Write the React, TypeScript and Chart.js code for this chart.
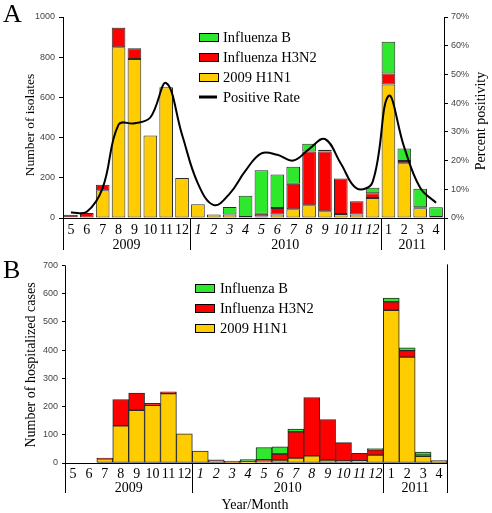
import React, { useEffect, useRef } from "react";
import { Chart, registerables } from "chart.js";

Chart.register(...registerables);

// ---------- data ----------
const months = ["5", "6", "7", "8", "9", "10", "11", "12", "1", "2", "3", "4", "5", "6", "7", "8", "9", "10", "11", "12", "1", "2", "3", "4"];
const years = ["2009", "2010", "2011"];
const yearSpans = [8, 12, 4];
const italicYear = "2010";

// Panel A: number of isolates
const isoH1N1 = [4, 3, 138, 849, 791, 410, 650, 199, 68, 17, 17, 2, 8, 18, 43, 64, 33, 20, 17, 100, 664, 272, 49, 3];
const isoH3N2 = [12, 22, 28, 97, 54, 0, 0, 0, 0, 0, 0, 3, 13, 32, 128, 267, 298, 176, 66, 23, 55, 11, 5, 2];
const isoB = [0, 0, 0, 2, 0, 0, 0, 0, 0, 0, 38, 106, 216, 167, 84, 38, 9, 0, 0, 27, 158, 63, 92, 48];
const positiveRate = [1.9, 2.2, 10.5, 32.5, 33, 35, 47, 29, 12, 4.5, 8.5, 16.5, 22.5, 22, 20, 24, 27.5, 19, 10.3, 12.5, 42.5, 24.5, 10.5, 5.3];

// Panel B: number of hospitalized cases
const hospH1N1 = [0, 0, 15, 132, 187, 204, 246, 103, 42, 9, 2, 3, 6, 10, 17, 25, 10, 7, 8, 28, 541, 375, 24, 2];
const hospH3N2 = [0, 0, 2, 93, 61, 7, 6, 0, 0, 2, 3, 3, 6, 22, 93, 207, 144, 65, 26, 19, 30, 23, 4, 0];
const hospB = [0, 0, 0, 0, 0, 0, 0, 0, 0, 0, 2, 6, 43, 25, 10, 0, 0, 0, 0, 4, 13, 10, 11, 7];

const seriesNames = ["Influenza B", "Influenza H3N2", "2009 H1N1", "Positive Rate"];

const isoTicks = [0, 200, 400, 600, 800, 1000];
const pctTicks = [0, 10, 20, 30, 40, 50, 60, 70];
const hospTicks = [0, 100, 200, 300, 400, 500, 600, 700];

// ---------- style ----------
const GREEN = "#2ee82e";
const RED = "#ff0000";
const YELLOW = "#ffcc00";
const EDGE = "#2a2a2a";
const SERIF = '"Liberation Serif", "Times New Roman", serif';
const SANS = '"Liberation Sans", Arial, sans-serif';

const decorPlugin = {
  id: "decor",
  afterDraw(chart: any) {
    const o = chart.options.plugins.decor;
    if (!o) return;
    const { ctx, chartArea: ca } = chart;
    const xs = chart.scales.x;
    const px = (v: number) => Math.round(v) + 0.5;
    ctx.save();
    ctx.strokeStyle = "#000";
    ctx.lineWidth = 1;
    const bottomExt = ca.bottom + o.extDown;
    const line = (x1: number, y1: number, x2: number, y2: number) => {
      ctx.beginPath();
      ctx.moveTo(x1, y1);
      ctx.lineTo(x2, y2);
      ctx.stroke();
    };
    // baseline
    line(ca.left, px(ca.bottom), ca.right, px(ca.bottom));
    // left & right verticals
    line(px(ca.left), ca.top, px(ca.left), bottomExt);
    line(px(ca.right), ca.top - o.rightTopExt, px(ca.right), bottomExt);
    // year separators + labels
    let start = 0;
    const n = months.length;
    ctx.fillStyle = "#000";
    ctx.textAlign = "center";
    ctx.textBaseline = "middle";
    years.forEach((yr, k) => {
      const end = start + yearSpans[k];
      if (start > 0) {
        const bx = (xs.getPixelForValue(start - 1) + xs.getPixelForValue(start)) / 2;
        line(px(bx), ca.bottom, px(bx), bottomExt);
      }
      const cx = (xs.getPixelForValue(start) + xs.getPixelForValue(end - 1)) / 2;
      ctx.font = `${o.yearSize}px ${SERIF}`;
      ctx.fillText(yr, cx, ca.bottom + o.yearDy);
      for (let i = start; i < end && i < n; i++) {
        ctx.font = `${yr === italicYear ? "italic " : ""}${o.monthSize}px ${SERIF}`;
        ctx.fillText(months[i], xs.getPixelForValue(i), ca.bottom + o.monthDy);
      }
      start = end;
    });
    // panel letter
    ctx.textAlign = "left";
    ctx.textBaseline = "alphabetic";
    ctx.font = `26px ${SERIF}`;
    ctx.fillText(o.letter, o.letterX, o.letterY);
    // axis titles
    const vText = (t: string, x: number, y: number, size: number) => {
      ctx.save();
      ctx.translate(x, y);
      ctx.rotate(-Math.PI / 2);
      ctx.textAlign = "center";
      ctx.textBaseline = "middle";
      ctx.font = `${size}px ${SERIF}`;
      ctx.fillText(t, 0, 0);
      ctx.restore();
    };
    vText(o.yTitle, o.yTitleX, o.yTitleY, o.yTitleSize);
    if (o.rTitle) vText(o.rTitle, o.rTitleX, o.rTitleY, 14);
    if (o.xTitle) {
      ctx.textAlign = "center";
      ctx.textBaseline = "middle";
      ctx.font = `14px ${SERIF}`;
      ctx.fillText(o.xTitle, o.xTitleX, o.xTitleY);
    }
    // legend
    ctx.textAlign = "left";
    ctx.textBaseline = "middle";
    ctx.font = `14.5px ${SERIF}`;
    o.legend.forEach((item: any, i: number) => {
      const y = o.legendRows[i];
      if (item.line) {
        ctx.save();
        ctx.lineWidth = 3;
        ctx.strokeStyle = "#000";
        line(o.legendX, y, o.legendX + 18, y);
        ctx.restore();
      } else {
        ctx.fillStyle = item.color;
        ctx.fillRect(o.legendX, y - 4, 20, 8);
        ctx.strokeStyle = "#000";
        ctx.strokeRect(o.legendX + 0.5, y - 4 + 0.5, 19, 8);
      }
      ctx.fillStyle = "#000";
      ctx.fillText(item.label, o.legendTextX, y + 1);
    });
    ctx.restore();
  },
};

function barSet(label: string, data: number[], color: string, pct: number) {
  return {
    type: "bar" as const,
    label,
    data,
    backgroundColor: color,
    borderColor: EDGE,
    borderWidth: 1,
    borderSkipped: false,
    barPercentage: pct,
    categoryPercentage: 1,
    order: 1,
    yAxisID: "y",
  };
}

const tickFont = { family: SANS, size: 9 };
const plainNum = (v: any) => String(v);

export default function App() {
  const refA = useRef<HTMLCanvasElement | null>(null);
  const refB = useRef<HTMLCanvasElement | null>(null);

  useEffect(() => {
    const labels = months.map((m, i) => `${i}-${m}`);
    const chartA = new Chart(refA.current!, {
      type: "bar",
      data: {
        labels,
        datasets: [
          {
            type: "line" as const,
            label: seriesNames[3],
            data: positiveRate,
            borderColor: "#000",
            borderWidth: 2,
            pointRadius: 0,
            tension: 0.4,
            fill: false,
            yAxisID: "y1",
            order: 0,
          } as any,
          barSet(seriesNames[2], isoH1N1, YELLOW, 0.86),
          barSet(seriesNames[1], isoH3N2, RED, 0.86),
          barSet(seriesNames[0], isoB, GREEN, 0.86),
        ],
      },
      options: {
        responsive: false,
        animation: false,
        layout: { padding: { top: 17, bottom: 38, left: 0, right: 0 } },
        plugins: {
          legend: { display: false },
          tooltip: { enabled: false },
          decor: {
            letter: "A",
            letterX: 3,
            letterY: 22,
            yTitle: "Number of isolates",
            yTitleX: 30,
            yTitleY: 125,
            yTitleSize: 13.5,
            rTitle: "Percent positivity",
            rTitleX: 481,
            rTitleY: 121,
            extDown: 32,
            rightTopExt: 0,
            monthDy: 12,
            yearDy: 27,
            monthSize: 14,
            yearSize: 14,
            legendX: 199,
            legendTextX: 223,
            legendRows: [37, 57, 77, 97],
            legend: [
              { label: seriesNames[0], color: GREEN },
              { label: seriesNames[1], color: RED },
              { label: seriesNames[2], color: YELLOW },
              { label: seriesNames[3], line: true },
            ],
          },
        } as any,
        scales: {
          x: { stacked: true, display: false, offset: true },
          y: {
            stacked: true,
            position: "left",
            min: 0,
            max: 1000,
            afterBuildTicks: (s: any) => { s.ticks = isoTicks.map((v) => ({ value: v })); },
            afterFit: (s: any) => { s.width = 63; },
            ticks: { font: tickFont, color: "#444", padding: 4, callback: plainNum },
            grid: { drawOnChartArea: false, tickLength: 4, color: "#000" },
            border: { display: false },
          },
          y1: {
            position: "right",
            min: 0,
            max: 70,
            afterBuildTicks: (s: any) => { s.ticks = pctTicks.map((v) => ({ value: v })); },
            afterFit: (s: any) => { s.width = 48; },
            ticks: { font: tickFont, color: "#444", padding: 3, callback: (v: any) => `${v}%` },
            grid: { drawOnChartArea: false, tickLength: 4, color: "#000" },
            border: { display: false },
          },
        },
      },
      plugins: [decorPlugin],
    } as any);

    const chartB = new Chart(refB.current!, {
      type: "bar",
      data: {
        labels,
        datasets: [
          barSet(seriesNames[2], hospH1N1, YELLOW, 1),
          barSet(seriesNames[1], hospH3N2, RED, 1),
          barSet(seriesNames[0], hospB, GREEN, 1),
        ],
      },
      options: {
        responsive: false,
        animation: false,
        layout: { padding: { top: 8, bottom: 50, left: 0, right: 45 } },
        plugins: {
          legend: { display: false },
          tooltip: { enabled: false },
          decor: {
            letter: "B",
            letterX: 3,
            letterY: 278 - 256,
            yTitle: "Number of hospitalized cases",
            yTitleX: 31,
            yTitleY: 365 - 256,
            yTitleSize: 14,
            extDown: 30,
            rightTopExt: 1,
            monthDy: 11,
            yearDy: 25,
            monthSize: 14,
            yearSize: 14,
            xTitle: "Year/Month",
            xTitleX: 255,
            xTitleY: 505 - 256,
            legendX: 195,
            legendTextX: 220,
            legendRows: [288 - 256, 308 - 256, 328 - 256],
            legend: [
              { label: seriesNames[0], color: GREEN },
              { label: seriesNames[1], color: RED },
              { label: seriesNames[2], color: YELLOW },
            ],
          },
        } as any,
        scales: {
          x: { stacked: true, display: false, offset: true },
          y: {
            stacked: true,
            position: "left",
            min: 0,
            max: 700,
            afterBuildTicks: (s: any) => { s.ticks = hospTicks.map((v) => ({ value: v })); },
            afterFit: (s: any) => { s.width = 65; },
            ticks: { font: tickFont, color: "#444", padding: 4, callback: plainNum },
            grid: { drawOnChartArea: false, tickLength: 3, color: "#000" },
            border: { display: false },
          },
        },
      },
      plugins: [decorPlugin],
    } as any);

    return () => {
      chartA.destroy();
      chartB.destroy();
    };
  }, []);

  return (
    <div style={{ position: "absolute", left: 0, top: 0, width: 492, height: 513, background: "#fff" }}>
      <canvas ref={refA} width={492} height={256} style={{ position: "absolute", left: 0, top: 0, width: 492, height: 256 }} />
      <canvas ref={refB} width={492} height={257} style={{ position: "absolute", left: 0, top: 256, width: 492, height: 257 }} />
    </div>
  );
}
